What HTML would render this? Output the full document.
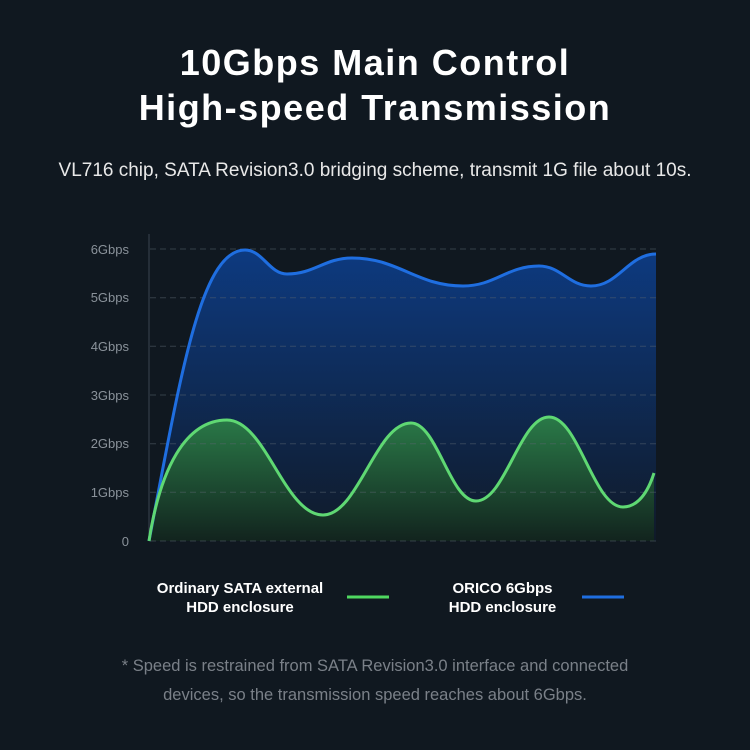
<!DOCTYPE html>
<html><head><meta charset="utf-8"><style>
html,body{margin:0;padding:0;background:#101820;}
body{width:750px;height:750px;position:relative;overflow:hidden;font-family:"Liberation Sans",sans-serif;color:#fff;}
.t{position:absolute;left:0;width:750px;text-align:center;}
</style></head><body>
<div class="t" style="top:40px;font-size:36px;font-weight:bold;letter-spacing:1.5px;line-height:45px;">10Gbps Main Control<br>High-speed Transmission</div>
<div class="t" style="top:160px;font-size:19px;color:#e8e8e8;">VL716 chip, SATA Revision3.0 bridging scheme, transmit 1G file about 10s.</div>
<svg style="position:absolute;left:0;top:0" width="750" height="750">
<defs>
<linearGradient id="gb" x1="0" y1="0" x2="0" y2="1"><stop offset="0" stop-color="#0d3a80"/><stop offset="1" stop-color="#101a28"/></linearGradient>
<linearGradient id="gg" x1="0" y1="0" x2="0" y2="1"><stop offset="0" stop-color="#2a7a48"/><stop offset="1" stop-color="#12241e"/></linearGradient>
</defs>
<path id="bf" fill="url(#gb)"/><path id="gf" fill="url(#gg)"/>
<g stroke="#5a6570" stroke-opacity="0.5" stroke-width="1" stroke-dasharray="6,4">
<line x1="150" y1="249" x2="656" y2="249"/><line x1="150" y1="297.7" x2="656" y2="297.7"/><line x1="150" y1="346.3" x2="656" y2="346.3"/><line x1="150" y1="395" x2="656" y2="395"/><line x1="150" y1="443.7" x2="656" y2="443.7"/><line x1="150" y1="492.3" x2="656" y2="492.3"/><line x1="150" y1="541" x2="656" y2="541"/>
</g>
<line x1="149" y1="234" x2="149" y2="541" stroke="#3a4550"/>
<g fill="#8a929a" font-size="13" text-anchor="end" font-family="Liberation Sans,sans-serif">
<text x="129" y="254">6Gbps</text><text x="129" y="302">5Gbps</text><text x="129" y="351">4Gbps</text><text x="129" y="400">3Gbps</text><text x="129" y="448">2Gbps</text><text x="129" y="497">1Gbps</text><text x="129" y="546">0</text>
</g>
<path id="bl" fill="none" stroke="#1f6ee0" stroke-width="3"/>
<path id="gl" fill="none" stroke="#5fd873" stroke-width="3"/>
<line x1="347" y1="597" x2="389" y2="597" stroke="#4fd860" stroke-width="3"/>
<line x1="582" y1="597" x2="624" y2="597" stroke="#1f6ee0" stroke-width="3"/>
</svg>
<div style="position:absolute;left:140px;top:579px;width:200px;text-align:center;font-size:15px;font-weight:bold;line-height:19px;">Ordinary SATA external<br>HDD enclosure</div>
<div style="position:absolute;left:430px;top:579px;width:145px;text-align:center;font-size:15px;font-weight:bold;line-height:19px;">ORICO 6Gbps<br>HDD enclosure</div>
<div class="t" style="top:652px;font-size:16.5px;color:#7a8088;line-height:29px;">* Speed is restrained from SATA Revision3.0 interface and connected<br>devices, so the transmission speed reaches about 6Gbps.</div>
<script>
function ext(start,p,k){let d=start;for(let i=0;i<p.length-1;i++){const b=p[i],c=p[i+1],dx=(c[0]-b[0])*k;d+=" C"+(b[0]+dx)+","+b[1]+" "+(c[0]-dx)+","+c[1]+" "+c[0]+","+c[1];}return d;}
const bd=ext("M149,541 C180,380 200,250 245,250",[[245,250],[287,274],[352,258],[463,286],[539,266],[591,286],[656,254]],0.42);
const gd=ext("M149,541 C160,470 185,420 227,420",[[227,420],[323,515],[411,423],[476,501],[549,417],[623,507]],0.4)+" C638,507 648,492 654,473";
document.getElementById('bl').setAttribute('d',bd);document.getElementById('gl').setAttribute('d',gd);
document.getElementById('bf').setAttribute('d',bd+" L656,541 L149,541Z");
document.getElementById('gf').setAttribute('d',gd+" L654,541 L149,541Z");
</script>
</body></html>
